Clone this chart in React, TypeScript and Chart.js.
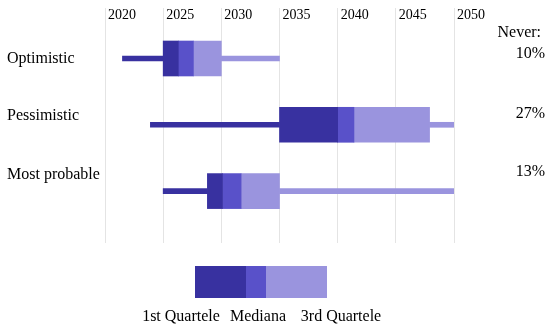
import { useEffect, useRef } from 'react';
import { Chart, registerables } from 'chart.js';

Chart.register(...registerables);

// ---------- data ----------
const SCENARIOS = ['Optimistic', 'Pessimistic', 'Most probable'];
const NEVER_PCT = [10, 27, 13];
const WHISKER_LOW = [2021.5, 2023.9, 2025];
const Q1 = [2025, 2035, 2028.8];
const MEDIAN_LOW = [2026.3, 2040, 2030.1];
const MEDIAN_HIGH = [2027.6, 2041.4, 2031.7];
const Q3 = [2030, 2047.9, 2035];
const WHISKER_HIGH = [2035, 2050, 2050];
const YEAR_TICKS = [2020, 2025, 2030, 2035, 2040, 2045, 2050];
const LEGEND_LABELS = ['1st Quartele', 'Mediana', '3rd Quartele'];
const NEVER_TITLE = 'Never: ';

// ---------- layout / style ----------
const FONT = "'Liberation Serif', 'Times New Roman', Times, serif";
const DARK = '#3831A0';
const MID = '#5951C9';
const LIGHT = '#9A94DE';
const GRID = '#E4E4E4';
const Y_MIN = -0.46;
const Y_MAX = 2.783;
const LEFT_LABEL_POS = [0, 0.87, 1.75];
const RIGHT_LABEL_POS = [-0.395, -0.078, 0.827, 1.712];

export default function App() {
  const ref = useRef<HTMLCanvasElement>(null);

  useEffect(() => {
    if (!ref.current) return;
    const rows = SCENARIOS.map((_, i) => i);
    const seg = (a: number[], b: number[]) => rows.map((i) => ({ x: [a[i], b[i]], y: i }));
    const rightLabels = [NEVER_TITLE, ...NEVER_PCT.map((p) => `${p}%`)];

    const legendPlugin = {
      id: 'quartileLegend',
      afterDraw(chart: any) {
        const ctx = chart.ctx as CanvasRenderingContext2D;
        const colors = [DARK, MID, LIGHT];
        const widths = [51, 20, 61];
        const centers = [181, 258, 341];
        let x = 195;
        ctx.save();
        colors.forEach((c, i) => {
          ctx.fillStyle = c;
          ctx.fillRect(x, 266, widths[i], 32);
          x += widths[i];
        });
        ctx.fillStyle = '#000';
        ctx.font = `16px ${FONT}`;
        ctx.textAlign = 'center';
        ctx.textBaseline = 'middle';
        LEGEND_LABELS.forEach((t, i) => ctx.fillText(t, centers[i], 317));
        ctx.restore();
      },
    };

    const tickFont = { family: FONT, size: 16 };
    const rowAxis = (labelPos: number[], labels: string[], position: string, width: number) => ({
      type: 'linear',
      position,
      reverse: true,
      offset: false,
      min: Y_MIN,
      max: Y_MAX,
      afterBuildTicks: (s: any) => {
        s.ticks = labelPos.map((v) => ({ value: v }));
      },
      afterFit: (s: any) => {
        s.width = width;
      },
      grid: { display: false, drawTicks: false, offset: false },
      border: { display: false },
      ticks: {
        crossAlign: 'far',
        padding: 0,
        autoSkip: false,
        color: '#000',
        font: tickFont,
        callback: (_v: any, i: number) => labels[i],
      },
    });

    const chart = new Chart(ref.current, {
      type: 'bar',
      data: {
        datasets: [
          { label: 'low', data: seg(WHISKER_LOW, Q1) as any, backgroundColor: DARK, barThickness: 5 },
          { label: 'high', data: seg(Q3, WHISKER_HIGH) as any, backgroundColor: LIGHT, barThickness: 5 },
          { label: LEGEND_LABELS[0], data: seg(Q1, MEDIAN_LOW) as any, backgroundColor: DARK, barThickness: 35 },
          { label: LEGEND_LABELS[1], data: seg(MEDIAN_LOW, MEDIAN_HIGH) as any, backgroundColor: MID, barThickness: 35 },
          { label: LEGEND_LABELS[2], data: seg(MEDIAN_HIGH, Q3) as any, backgroundColor: LIGHT, barThickness: 35 },
        ],
      },
      options: {
        indexAxis: 'y',
        animation: false,
        responsive: false,
        datasets: { bar: { grouped: false, borderWidth: 0 } } as any,
        layout: { padding: { left: 7, right: 5, top: 0, bottom: 88 } },
        plugins: { legend: { display: false }, tooltip: { enabled: false } },
        scales: {
          x: {
            type: 'linear',
            position: 'top',
            min: 2020,
            max: 2050,
            afterBuildTicks: (s: any) => {
              s.ticks = YEAR_TICKS.map((v) => ({ value: v }));
            },
            afterFit: (s: any) => {
              s.height = 28;
            },
            grid: { color: GRID, drawTicks: true, tickLength: 20, tickColor: GRID },
            border: { display: false },
            ticks: {
              align: 'start',
              labelOffset: 3,
              padding: -16,
              maxRotation: 0,
              autoSkip: false,
              color: '#000',
              font: { family: FONT, size: 14 },
              callback: (v: any) => String(v),
            },
          },
          y: { type: 'linear', display: false, reverse: true, min: Y_MIN, max: Y_MAX, offset: false },
          yl: rowAxis(LEFT_LABEL_POS, SCENARIOS, 'left', 98),
          yr: rowAxis(RIGHT_LABEL_POS, rightLabels, 'right', 91),
        },
      } as any,
      plugins: [legendPlugin],
    });
    return () => chart.destroy();
  }, []);

  return (
    <div style={{ position: 'fixed', left: 0, top: 0, width: 550, height: 331, background: '#fff' }}>
      <canvas ref={ref} width={550} height={331} style={{ display: 'block' }} />
    </div>
  );
}
